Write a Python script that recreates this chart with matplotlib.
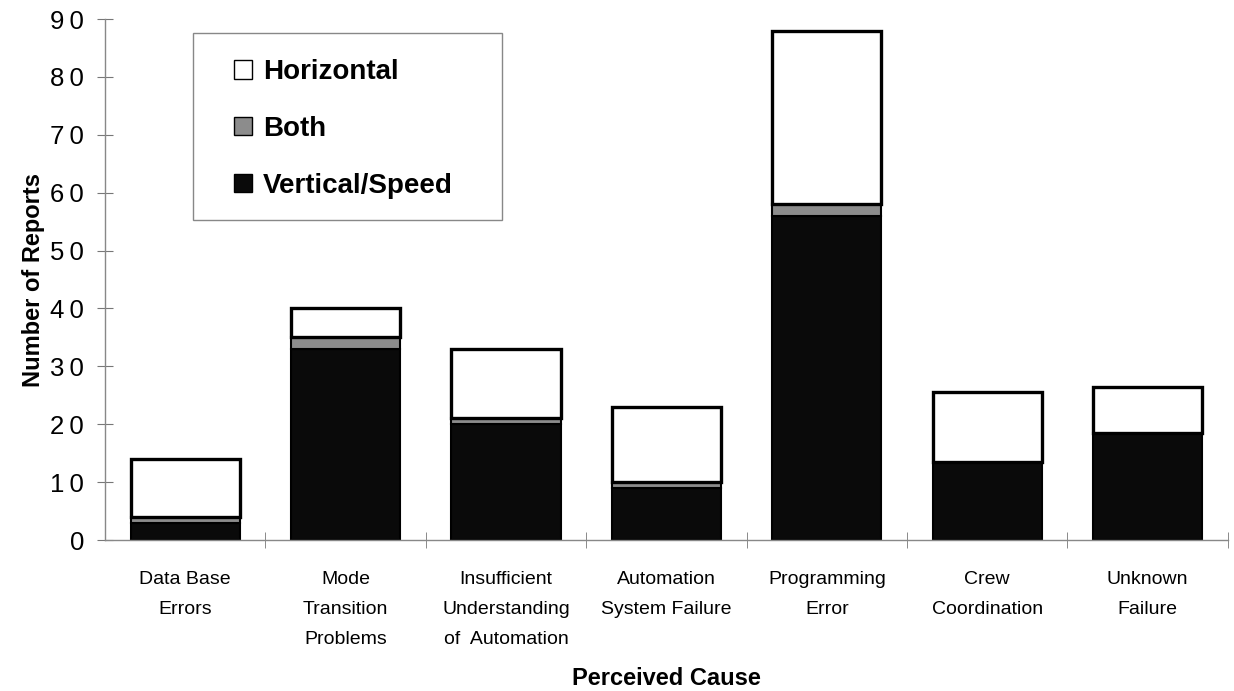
import numpy as np
import matplotlib.pyplot as plt
from matplotlib.patches import Patch, Rectangle

plt.rcParams['font.family'] = ['Liberation Sans', 'DejaVu Sans']

# Data
causes = ["Data Base\nErrors", "Mode\nTransition\nProblems",
          "Insufficient\nUnderstanding\nof  Automation", "Automation\nSystem Failure",
          "Programming\nError", "Crew\nCoordination", "Unknown\nFailure"]
vertical = [3, 33, 20, 9, 56, 13.5, 18.5]
both = [1, 2, 1, 1, 2, 0, 0]
horizontal = [10, 5, 12, 13, 30, 12, 8]
yticks = list(range(0, 91, 10))

fig = plt.figure(figsize=(12.34, 6.91), dpi=100)
ax = fig.add_axes([0.0851, 0.2185, 0.9099, 0.754])

x = np.arange(len(causes))
w = 0.68
vertical = np.array(vertical)
both = np.array(both)
horizontal = np.array(horizontal)

ax.bar(x, vertical, w, color='#0a0a0a', edgecolor='black', linewidth=1.5)
ax.bar(x, both, w, bottom=vertical, color='#8c8c8c', edgecolor='black', linewidth=1.5)
ax.bar(x, horizontal, w, bottom=vertical + both, color='white', edgecolor='black', linewidth=2.4)

ax.set_xlim(-0.5, len(causes) - 0.5)
ax.set_ylim(0, 90)
ax.set_yticks(yticks)
ax.set_yticklabels(["\u2009".join(str(v)) for v in yticks], fontsize=18.5)

ax.set_xticks(x)
ax.set_xticklabels(causes, fontsize=14, linespacing=2.0)
ax.tick_params(axis='x', which='major', length=0, pad=22)
ax.set_xticks(np.arange(0.5, len(causes) - 0.5 + 0.01, 1), minor=True)
ax.tick_params(axis='x', which='minor', direction='inout', length=12, color='#777777')
ax.tick_params(axis='y', direction='inout', length=12, color='#777777', pad=9)

for side in ['top', 'right']:
    ax.spines[side].set_visible(False)
for side in ['left', 'bottom']:
    ax.spines[side].set_color('#888888')
    ax.spines[side].set_linewidth(1)

ax.set_ylabel("Number of Reports", fontsize=17, fontweight='bold', labelpad=4)
ax.set_xlabel("Perceived Cause", fontsize=17, fontweight='bold', labelpad=14)

handles = [Patch(facecolor='white', edgecolor='black', label='Horizontal'),
           Patch(facecolor='#8c8c8c', edgecolor='black', label='Both'),
           Patch(facecolor='#0a0a0a', edgecolor='black', label='Vertical/Speed')]
leg = fig.legend(handles=handles, loc='upper left', bbox_to_anchor=(0.1896, 0.914),
                 prop={'size': 20, 'weight': 'bold'}, frameon=False,
                 handlelength=0.65, handleheight=0.65, handletextpad=0.4,
                 labelspacing=1.1, borderpad=0, borderaxespad=0)

# legend frame, wider than the default padding
fig.patches.append(Rectangle((0.1564, 0.6816), 0.2504, 0.2706, transform=fig.transFigure,
                             facecolor='white', edgecolor='#888888', linewidth=1, zorder=0))

fig.savefig("out.png", dpi=100)
